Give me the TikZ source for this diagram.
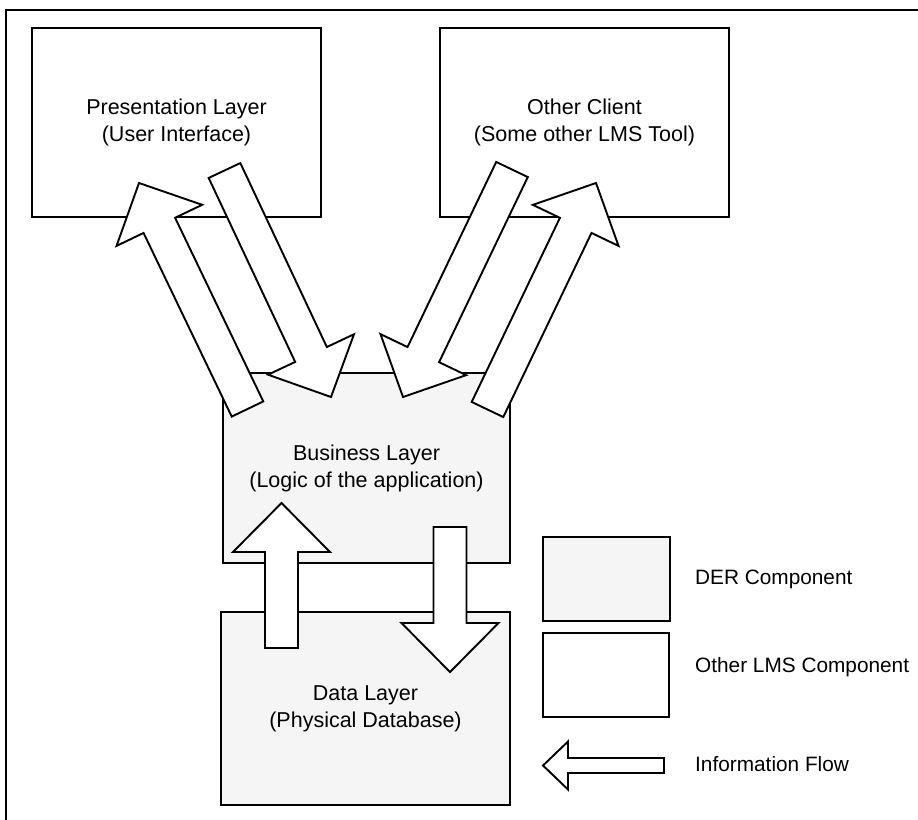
\documentclass[tikz,border=0pt]{standalone}
\usepackage{fontspec}
\setmainfont{Liberation Sans}
\usetikzlibrary{calc}
\tikzset{
  box/.style={draw, line width=2.1pt, inner sep=0pt},
  dercomp/.style={box, fill=black!4},
  lmscomp/.style={box, fill=white},
  flowarrow/.style={draw, fill=white, line width=1.9pt, line join=miter},
  boxtext/.style={align=center, font=\fontsize{21.5}{27}\selectfont},
  legtext/.style={anchor=west, inner sep=0pt, font=\fontsize{20.8}{25}\selectfont},
}
% #1 tail coordinate, #2 tip coordinate, #3 half shaft width, #4 half head width, #5 head length
\newcommand\blockarrow[5]{%
  \path ($(#2)!#5!(#1)$) coordinate (ba-b);
  \draw[flowarrow]
    ($(#1)!#3!90:(#2)$) -- ($(ba-b)!#3!90:(#2)$) -- ($(ba-b)!#4!90:(#2)$)
    -- (#2)
    -- ($(ba-b)!#4!-90:(#2)$) -- ($(ba-b)!#3!-90:(#2)$) -- ($(#1)!#3!-90:(#2)$) -- cycle;
}
\begin{document}
\begin{tikzpicture}[x=1pt, y=-1pt]
\useasboundingbox (0,0) rectangle (918,819);
\clip (0,0) rectangle (918,819);
\fill[white] (0,0) rectangle (918,819);
% outer frame (cut off at right and bottom)
\draw[line width=2.8pt] (6,10) rectangle (940,840);

% components
\node[lmscomp, boxtext, minimum width=289pt, minimum height=189pt] (pres) at (176.5,122.5)
  {Presentation Layer\\(User Interface)};
\node[lmscomp, boxtext, minimum width=289pt, minimum height=189pt] (other) at (584.5,122.5)
  {Other Client\\(Some other LMS Tool)};
\node[dercomp, boxtext, minimum width=287pt, minimum height=190pt] (bus) at (366.5,468)
  {Business Layer\\(Logic of the application)};
\node[dercomp, boxtext, minimum width=289pt, minimum height=193pt] (data) at (365.5,708.5)
  {Data Layer\\(Physical Database)};

% legend
\node[dercomp, minimum width=127pt, minimum height=84pt] (legder) at (606.5,579) {};
\node[lmscomp, minimum width=126pt, minimum height=84pt] (leglms) at (606,675) {};
\node[legtext] (legdert) at (695,579) {DER Component};
\node[legtext] (leglmst) at (695,667) {Other LMS Component};
\node[legtext] (legflowt) at (695,764) {Information Flow};

% arrow end points
\coordinate (a1t) at (247.5,409);   \coordinate (a1h) at (139,183);
\coordinate (a2t) at (224.5,170.5); \coordinate (a2h) at (331,397);
\coordinate (a3t) at (512,169.5);   \coordinate (a3h) at (403,397);
\coordinate (a4t) at (487.5,409.5); \coordinate (a4h) at (596,183);
\coordinate (a5t) at (281.5,648);   \coordinate (a5h) at (281.5,503);
\coordinate (a6t) at (450,527);     \coordinate (a6h) at (450,672);
\coordinate (a7t) at (664,765.5);   \coordinate (a7h) at (543,765.5);

% information flow arrows
\blockarrow{a1t}{a1h}{17.5pt}{47.5pt}{47pt}
\blockarrow{a2t}{a2h}{17.5pt}{47.5pt}{47pt}
\blockarrow{a3t}{a3h}{17.5pt}{47.5pt}{47pt}
\blockarrow{a4t}{a4h}{17.5pt}{47.5pt}{47pt}
\blockarrow{a5t}{a5h}{16.5pt}{48.5pt}{49pt}
\blockarrow{a6t}{a6h}{16.5pt}{48.5pt}{49pt}
\blockarrow{a7t}{a7h}{7.5pt}{24pt}{25pt}
\end{tikzpicture}
\end{document}
